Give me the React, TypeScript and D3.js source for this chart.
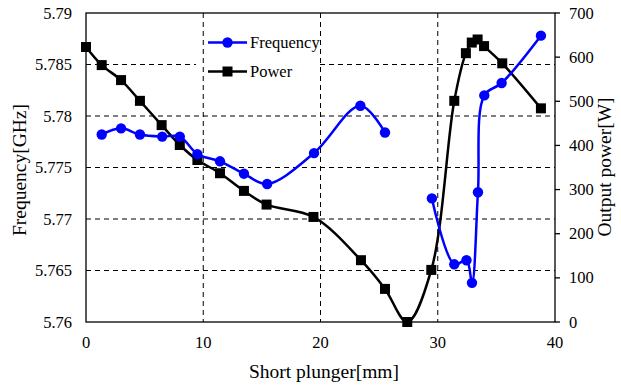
import React from "react";
import * as d3 from "d3";

const powerX = [0, 1.34, 2.99, 4.6, 6.45, 8.0, 9.5, 11.43, 13.47, 15.4, 19.4, 23.45, 25.5, 27.4, 29.45, 31.41, 32.4, 32.9, 33.4, 33.95, 35.5, 38.8];
const powerY = [623, 582, 548, 501, 446, 401, 367, 337, 297, 266, 238, 140, 75, 0, 118, 501, 609, 633, 640, 625, 586, 484];

const freqX1 = [1.34, 2.99, 4.6, 6.5, 8.0, 9.5, 11.43, 13.47, 15.45, 19.45, 23.4, 25.5];
const freqY1 = [5.7782, 5.7788, 5.7782, 5.778, 5.778, 5.7763, 5.7756, 5.7744, 5.7734, 5.7764, 5.781, 5.7784];
const freqX2 = [29.5, 31.41, 32.45, 32.92, 33.43, 33.97, 35.45, 38.8];
const freqY2 = [5.772, 5.7656, 5.766, 5.7638, 5.7726, 5.782, 5.7832, 5.7878];

const xTicks = [0, 10, 20, 30, 40];
const freqTicks = [5.76, 5.765, 5.77, 5.775, 5.78, 5.785, 5.79];
const freqTickLabels = ["5.76", "5.765", "5.77", "5.775", "5.78", "5.785", "5.79"];
const powerTicks = [0, 100, 200, 300, 400, 500, 600, 700];

const W = 621, H = 385;
const L = 86, R = 555, T = 13, B = 322;
const FONT = '"Liberation Serif", "Times New Roman", "DejaVu Serif", serif';

export default function App() {
  const x = d3.scaleLinear().domain([0, 40]).range([L, R]);
  const yF = d3.scaleLinear().domain([5.76, 5.79]).range([B, T]);
  const yP = d3.scaleLinear().domain([0, 700]).range([B, T]);

  const curve = d3.curveCatmullRom.alpha(0.5);
  const lineP = d3.line<number>().x((_, i) => x(powerX[i])).y((v) => yP(v)).curve(curve);
  const lineF1 = d3.line<number>().x((_, i) => x(freqX1[i])).y((v) => yF(v)).curve(curve);
  const lineF2 = d3.line<number>().x((_, i) => x(freqX2[i])).y((v) => yF(v)).curve(curve);

  const blue = "#0000FF";
  const sq = 10;
  const ts = { fontFamily: FONT };

  return (
    <svg width={W} height={H} style={{ position: "absolute", left: 0, top: 0, background: "#fff", fontFamily: FONT }}>
      <rect x={0} y={0} width={W} height={H} fill="#fff" />
      {freqTicks.slice(1, -1).map((t) => (
        <line key={"hg" + t} x1={L} x2={R} y1={yF(t)} y2={yF(t)} stroke="#000" strokeWidth={1} strokeDasharray="5,4" />
      ))}
      <rect x={196} y={28} width={122} height={56} fill="#fff" />
      {xTicks.slice(1, -1).map((t) => (
        <line key={"vg" + t} x1={x(t)} x2={x(t)} y1={T} y2={B} stroke="#000" strokeWidth={1} strokeDasharray="5,4" />
      ))}
      <rect x={L} y={T} width={R - L} height={B - T} fill="none" stroke="#000" strokeWidth={1.3} />
      {powerTicks.map((t) => (
        <line key={"rt" + t} x1={R} x2={R + 5} y1={yP(t)} y2={yP(t)} stroke="#000" strokeWidth={1.3} />
      ))}
      {freqTicks.map((t, i) => (
        <text key={"lt" + t} style={ts} x={72} y={yF(t) + 5.5} textAnchor="end" fontSize={16.5} fill="#000">{freqTickLabels[i]}</text>
      ))}
      {powerTicks.map((t) => (
        <text key={"rl" + t} style={ts} x={569} y={yP(t) + 5.5} textAnchor="start" fontSize={16.5} fill="#000">{t}</text>
      ))}
      {xTicks.map((t) => (
        <text key={"bt" + t} style={ts} x={x(t)} y={348} textAnchor="middle" fontSize={16.5} fill="#000">{t}</text>
      ))}
      <text style={ts} x={324} y={378} textAnchor="middle" fontSize={19.5} fill="#000">Short plunger[mm]</text>
      <text style={ts} transform={`translate(26,170) rotate(-90)`} textAnchor="middle" fontSize={19.5} fill="#000">Frequency[GHz]</text>
      <text style={ts} transform={`translate(611,167) rotate(-90)`} textAnchor="middle" fontSize={19.5} fill="#000">Output power[W]</text>

      <path d={lineP(powerY) || ""} fill="none" stroke="#000" strokeWidth={2.5} />
      {powerY.map((v, i) => (
        <rect key={"ps" + i} x={x(powerX[i]) - sq / 2} y={yP(v) - sq / 2} width={sq} height={sq} fill="#000" />
      ))}
      <path d={lineF1(freqY1) || ""} fill="none" stroke={blue} strokeWidth={2.5} />
      <path d={lineF2(freqY2) || ""} fill="none" stroke={blue} strokeWidth={2.5} />
      {freqY1.map((v, i) => (
        <circle key={"f1" + i} cx={x(freqX1[i])} cy={yF(v)} r={5.2} fill={blue} />
      ))}
      {freqY2.map((v, i) => (
        <circle key={"f2" + i} cx={x(freqX2[i])} cy={yF(v)} r={5.2} fill={blue} />
      ))}

      <line x1={208} x2={247} y1={42.5} y2={42.5} stroke={blue} strokeWidth={2.5} />
      <circle cx={227.5} cy={42.5} r={5.2} fill={blue} />
      <text style={ts} x={250} y={48} fontSize={16.5} fill="#000">Frequency</text>
      <line x1={208} x2={247} y1={71.5} y2={71.5} stroke="#000" strokeWidth={2.5} />
      <rect x={227.5 - sq / 2} y={71.5 - sq / 2} width={sq} height={sq} fill="#000" />
      <text style={ts} x={250} y={77} fontSize={16.5} fill="#000">Power</text>
    </svg>
  );
}
